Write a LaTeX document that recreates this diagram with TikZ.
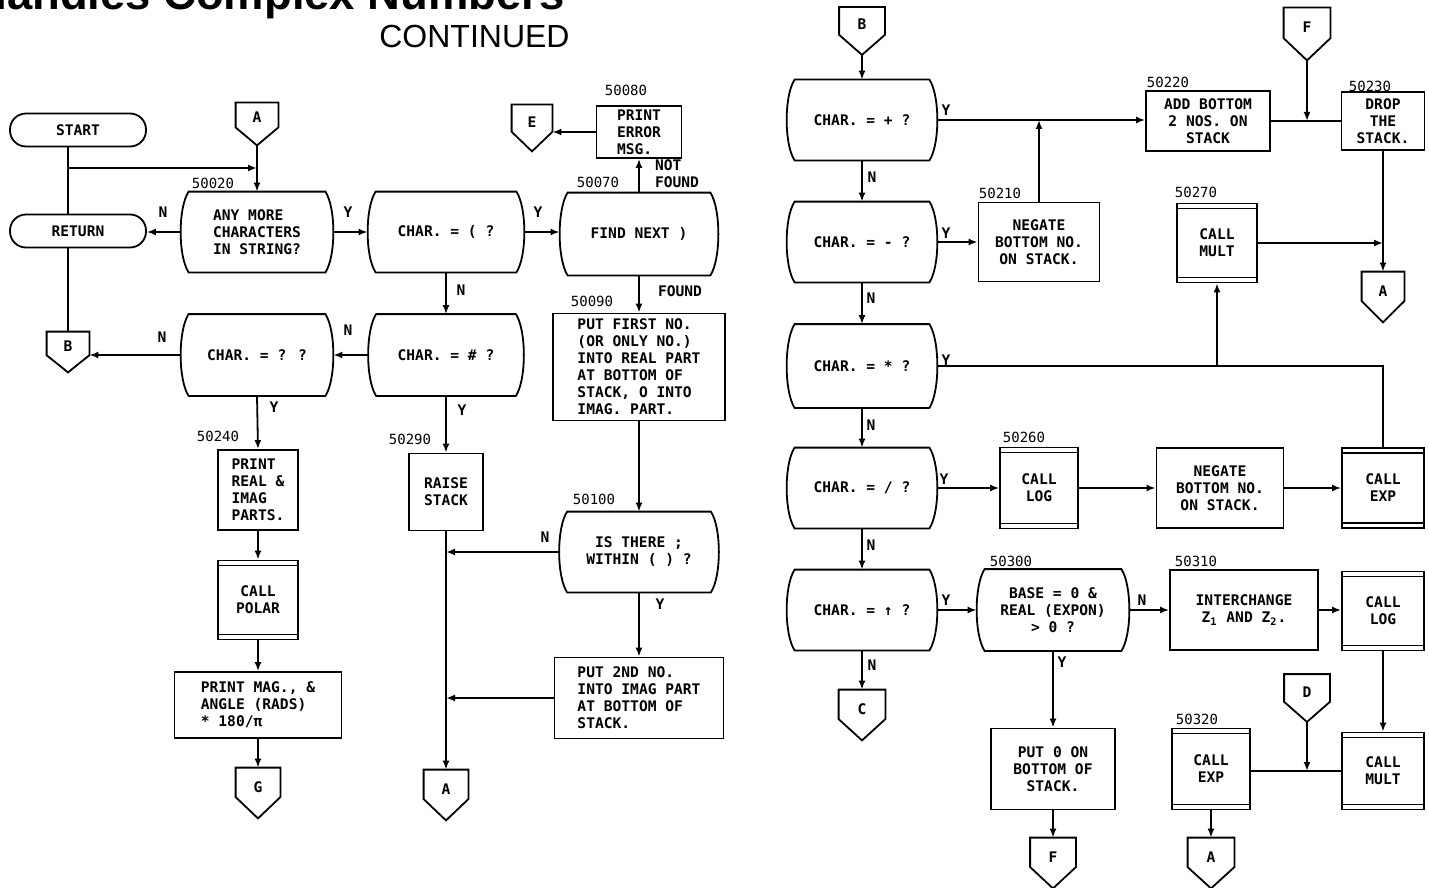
\documentclass[tikz,border=0pt]{standalone}
\usepackage{fontspec}
\newfontfamily\chartfont{DejaVu Sans Mono}
\newfontfamily\titlefont{Liberation Sans}
\usetikzlibrary{positioning,calc,arrows.meta}

\begin{document}
\begin{tikzpicture}
      [x=0.5pt,y=-0.5pt,
      every node/.style={font=\chartfont\bfseries\fontsize{7.3}{8.5}\selectfont},
      wire/.style={line width=0.9pt},
      wirearr/.style={line width=0.9pt,-{Latex[length=4.5pt,width=3.5pt]}},
      term/.style={draw,line width=0.9pt,rounded corners=8pt,minimum width=68pt,minimum height=16.5pt,inner sep=1pt},
      proc/.style={draw,line width=0.9pt,align=center,inner sep=1pt},
      dec/.style={align=center,inner sep=1pt,minimum width=75pt,minimum height=40pt,
        append after command={\pgfextra{\draw[line width=0.9pt]
          ([xshift=4pt]\tikzlastnode.north west)
            .. controls ($(\tikzlastnode.north west)!0.2!(\tikzlastnode.south west)+(-1.3pt,0)$)
            and ($(\tikzlastnode.north west)!0.8!(\tikzlastnode.south west)+(-1.3pt,0)$) .. ([xshift=4pt]\tikzlastnode.south west)
          -- ([xshift=-4pt]\tikzlastnode.south east)
            .. controls ($(\tikzlastnode.north east)!0.8!(\tikzlastnode.south east)+(1.3pt,0)$)
            and ($(\tikzlastnode.north east)!0.2!(\tikzlastnode.south east)+(1.3pt,0)$) .. ([xshift=-4pt]\tikzlastnode.north east)
          -- cycle;}}},
      call/.style={draw,line width=0.9pt,align=center,inner sep=1pt,minimum width=40pt,minimum height=40pt,
        append after command={\pgfextra{\draw[line width=0.7pt]
          ([yshift=-3pt]\tikzlastnode.north west) -- ([yshift=-3pt]\tikzlastnode.north east)
          ([yshift=3pt]\tikzlastnode.south west) -- ([yshift=3pt]\tikzlastnode.south east);}}},
      conn/.style={inner sep=0pt,minimum width=22pt,minimum height=24pt,text height=5pt,text depth=6pt,
        append after command={\pgfextra{\draw[line width=0.9pt]
          (\tikzlastnode.north west) -- (\tikzlastnode.north east) -- ($(\tikzlastnode.north east)!0.58!(\tikzlastnode.south east)$)
          -- (\tikzlastnode.south) -- ($(\tikzlastnode.north west)!0.58!(\tikzlastnode.south west)$) -- cycle;}}},
      num/.style={font=\chartfont\fontsize{7}{8}\selectfont,inner sep=0pt},
      yn/.style={inner sep=0pt}]
     \useasboundingbox (0,0) rectangle (1429,888);
     \node[anchor=base east,inner sep=0pt,font=\titlefont\bfseries\fontsize{22.7}{24}\selectfont] (title) at (565,10) {Handles Complex Numbers};
     \node[anchor=base east,inner sep=0pt,font=\titlefont\fontsize{16}{18}\selectfont] (cont) at (570,48) {CONTINUED};
     % left page
     \node[term] (start) at (78,130) {START};
     \node[term] (ret) at (78,231) {RETURN};
     \node[conn,minimum width=21pt,minimum height=21pt] (conA1) at (257,124) {A};
     \node[dec,align=left,minimum width=76pt] (d20) at (257,232) {ANY MORE\\CHARACTERS\\IN STRING?};
     \node[dec,minimum width=78pt] (dpar) at (446,232) {CHAR. = ( ?};
     \node[dec,minimum width=79pt,minimum height=41pt] (dfind) at (639,234) {FIND NEXT )};
     \node[proc,align=left,minimum width=42.5pt,minimum height=26pt] (perr) at (639,132) {PRINT\\ERROR\\MSG.};
     \node[conn,minimum width=20pt,minimum height=23pt] (conE) at (532,128) {E};
     \node[proc,align=left,minimum width=86pt,minimum height=53.5pt] (b90) at (639,367) {PUT FIRST NO.\\(OR ONLY NO.)\\INTO REAL PART\\AT BOTTOM OF\\STACK, O INTO\\IMAG. PART.};
     \node[dec,minimum width=79.5pt] (d100) at (639,552) {IS THERE ;\\WITHIN ( ) ?};
     \node[proc,align=left,minimum width=84.5pt,minimum height=40.5pt] (b2nd) at (639,698) {PUT 2ND NO.\\INTO IMAG PART\\AT BOTTOM OF\\STACK.};
     \node[dec,minimum width=77.5pt,minimum height=40.5pt] (dhash) at (446,355) {CHAR. = \# ?};
     \node[dec,minimum width=76pt,minimum height=40.5pt] (dq) at (257,355) {CHAR. = ? ?};
     \node[conn,minimum width=21pt,minimum height=20pt] (conB1) at (68,352) {B};
     \node[proc,align=left,minimum width=40pt,minimum height=40pt] (b240) at (258,490) {PRINT\\REAL \&\\IMAG\\PARTS.};
     \node[call,minimum height=39.5pt] (polar) at (258,600) {CALL\\POLAR};
     \node[proc,align=left,minimum width=83.5pt,minimum height=33pt] (bmag) at (258,705) {PRINT MAG., \&\\ANGLE (RADS)\\* 180/π};
     \node[conn,minimum height=25pt] (conG) at (258,793) {G};
     \node[proc,minimum width=37pt,minimum height=38.5pt] (b290) at (446,492) {RAISE\\STACK};
     \node[conn,minimum height=25pt] (conA2) at (446,795) {A};
     \node[num] (n50020) at (213,183) {50020};
     \node[num] (n50070) at (598,182) {50070};
     \node[num] (n50080) at (626,90) {50080};
     \node[num] (n50090) at (592,301) {50090};
     \node[num] (n50100) at (594,499) {50100};
     \node[num] (n50240) at (218,436) {50240};
     \node[num] (n50290) at (410,439) {50290};
     \node[yn] (n20) at (163,212) {N};
     \node[yn] (y20) at (348,212) {Y};
     \node[yn] (ypar) at (538,212) {Y};
     \node[yn,align=left] (nfind) at (677,174) {NOT\\FOUND};
     \node[yn] (yfind) at (680,291) {FOUND};
     \node[yn] (npar) at (461,290) {N};
     \node[yn] (nhash) at (348,330) {N};
     \node[yn] (nq) at (162,337) {N};
     \node[yn] (yq) at (274,407) {Y};
     \node[yn] (yhash) at (462,410) {Y};
     \node[yn] (n100) at (545,537) {N};
     \node[yn] (y100) at (660,604) {Y};
     \coordinate (jst) at (68,168);
     \draw[wire] (start.south -| conB1) -- (ret.north -| conB1);
     \draw[wire] (ret.south -| conB1) -- (conB1.north);
     \draw[wirearr] (jst) -- (jst -| conA1.south);
     \draw[wirearr] (conA1.south) -- (d20.north);
     \draw[wirearr] (d20.west) -- (d20.west -| ret.east);
     \draw[wirearr] (d20.east) -- (dpar.west);
     \draw[wirearr] (dpar.east) -- (dpar.east -| dfind.west);
     \draw[wirearr] (dfind.north) -- (perr.south);
     \draw[wirearr] (perr.west) -- (perr.west -| conE.east);
     \draw[wirearr] (dfind.south) -- (b90.north);
     \draw[wirearr] (b90.south) -- (d100.north);
     \draw[wirearr] (d100.south) -- (b2nd.north);
     \draw[wirearr] (dpar.south) -- (dhash.north);
     \draw[wirearr] (dhash.west) -- (dq.east);
     \draw[wirearr] (dq.west) -- (dq.west -| conB1.east);
     \draw[wirearr] (dq.south) -- (b240.north);
     \draw[wirearr] (b240.south) -- (polar.north);
     \draw[wirearr] (polar.south) -- (bmag.north);
     \draw[wirearr] (bmag.south) -- (conG.north);
     \draw[wirearr] (dhash.south) -- (b290.north);
     \draw[wirearr] (b290.south) -- (conA2.north);
     \draw[wirearr] (d100.west) -- (d100.west -| b290.south);
     \draw[wirearr] (b2nd.west) -- (b2nd.west -| b290.south);
     % right page
     \node[conn,minimum width=22.5pt,minimum height=23.5pt] (conB2) at (862,31) {B};
     \node[dec] (dplus) at (862,120) {CHAR. = + ?};
     \node[dec] (dminus) at (862,242) {CHAR. = - ?};
     \node[dec,minimum height=41.5pt] (dstar) at (862,366) {CHAR. = * ?};
     \node[dec] (dslash) at (862,488) {CHAR. = / ?};
     \node[dec] (dpow) at (862,610) {CHAR. = ↑ ?};
     \node[conn,minimum width=23pt,minimum height=25pt] (conC) at (862,715) {C};
     \node[proc,minimum width=60.5pt,minimum height=39.5pt] (b210) at (1039,242) {NEGATE\\BOTTOM NO.\\ON STACK.};
     \node[proc,minimum width=62pt,minimum height=30pt] (b220) at (1208,121) {ADD BOTTOM\\2 NOS. ON\\STACK};
     \node[conn,minimum width=23pt,minimum height=26pt] (conF1) at (1307,34) {F};
     \node[proc,minimum width=41.5pt,minimum height=29pt] (b230) at (1383,121) {DROP\\THE\\STACK.};
     \node[conn,minimum width=21pt,minimum height=25pt] (conA3) at (1383,297) {A};
     \node[call,minimum height=39.5pt] (mult1) at (1217,243) {CALL\\MULT};
     \node[call,minimum width=39pt,minimum height=40.5pt] (log1) at (1039,488) {CALL\\LOG};
     \node[proc,minimum width=63.5pt,minimum height=40pt] (neg2) at (1220,488) {NEGATE\\BOTTOM NO.\\ON STACK.};
     \node[call,minimum width=41pt] (exp1) at (1383,488) {CALL\\EXP};
     \node[dec,minimum width=76pt,minimum height=40.5pt] (d300) at (1053,610) {BASE = 0 \&\\REAL (EXPON)\\> 0 ?};
     \node[proc,minimum width=74pt,minimum height=40pt] (b310) at (1244,610) {INTERCHANGE\\Z\textsubscript{1} AND Z\textsubscript{2}.};
     \node[call,minimum width=41pt,minimum height=39.5pt] (log2) at (1383,611) {CALL\\LOG};
     \node[call,minimum width=41pt,minimum height=38.5pt] (mult2) at (1383,771) {CALL\\MULT};
     \node[proc,minimum width=62pt,minimum height=40.5pt] (bput0) at (1053,769) {PUT 0 ON\\BOTTOM OF\\STACK.};
     \node[call,minimum width=39pt,minimum height=40.5pt] (exp2) at (1211,769) {CALL\\EXP};
     \node[conn,minimum width=22.5pt,minimum height=23.5pt] (conD) at (1307,698) {D};
     \node[conn,minimum width=22.5pt,minimum height=25pt] (conF2) at (1053,863) {F};
     \node[conn,minimum width=23pt,minimum height=25pt] (conA4) at (1211,863) {A};
     \node[num] (n50210) at (1000,193) {50210};
     \node[num] (n50220) at (1168,82) {50220};
     \node[num] (n50230) at (1370,86) {50230};
     \node[num] (n50270) at (1196,192) {50270};
     \node[num] (n50260) at (1024,437) {50260};
     \node[num] (n50300) at (1011,561) {50300};
     \node[num] (n50310) at (1196,561) {50310};
     \node[num] (n50320) at (1197,719) {50320};
     \node[yn] (yplus) at (946,110) {Y};
     \node[yn] (nplus) at (872,177) {N};
     \node[yn] (yminus) at (946,233) {Y};
     \node[yn] (nminus) at (871,298) {N};
     \node[yn] (ystar) at (946,360) {Y};
     \node[yn] (nstar) at (871,425) {N};
     \node[yn] (yslash) at (944,479) {Y};
     \node[yn] (nslash) at (871,545) {N};
     \node[yn] (ypow) at (946,600) {Y};
     \node[yn] (npow) at (872,665) {N};
     \node[yn] (n300) at (1142,600) {N};
     \node[yn] (y300) at (1062,662) {Y};
     \draw[wirearr] (conB2.south) -- (dplus.north);
     \draw[wirearr] (dplus.east) -- (dplus.east -| b220.west);
     \draw[wirearr] (dplus.south) -- (dminus.north);
     \draw[wirearr] (dminus.south) -- (dstar.north);
     \draw[wirearr] (dstar.south) -- (dslash.north);
     \draw[wirearr] (dslash.south) -- (dpow.north);
     \draw[wirearr] (dpow.south) -- (conC.north);
     \draw[wirearr] (dminus.east) -- (b210.west);
     \draw[wirearr] (b210.north) -- (b210.north |- dplus.east);
     \draw[wire] (b220.east) -- (b230.west);
     \draw[wirearr] (conF1.south) -- (conF1.south |- b220.east);
     \draw[wirearr] (b230.south) -- (conA3.north);
     \draw[wirearr] (mult1.east) -- (mult1.east -| b230.south);
     \draw[wire] (dstar.east) -- (dstar.east -| exp1.north) -- (exp1.north);
     \draw[wirearr] (dstar.east -| mult1.south) -- (mult1.south);
     \draw[wirearr] (dslash.east) -- (log1.west);
     \draw[wirearr] (log1.east) -- (neg2.west);
     \draw[wirearr] (neg2.east) -- (exp1.west);
     \draw[wirearr] (dpow.east) -- (d300.west);
     \draw[wirearr] (d300.east) -- (b310.west);
     \draw[wirearr] (b310.east) -- (b310.east -| log2.west);
     \draw[wirearr] (log2.south) -- (mult2.north);
     \draw[wirearr] (d300.south) -- (bput0.north);
     \draw[wirearr] (bput0.south) -- (conF2.north);
     \draw[wire] (mult2.west) -- (mult2.west -| exp2.east);
     \draw[wirearr] (conD.south) -- (conD.south |- mult2.west);
     \draw[wirearr] (exp2.south) -- (conA4.north);
    \end{tikzpicture}
\end{document}
